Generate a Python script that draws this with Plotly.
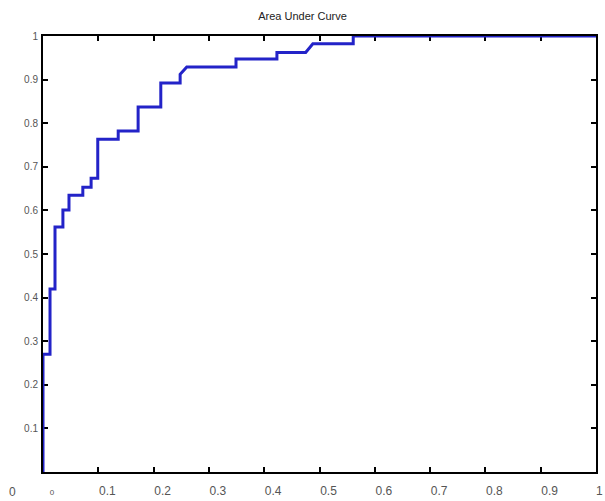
import plotly.graph_objects as go

# ROC curve data (false positive rate, true positive rate)
fpr = [0, 0, 0.0127, 0.0127, 0.0217, 0.0217, 0.036, 0.036, 0.047, 0.047, 0.072, 0.072,
       0.087, 0.087, 0.099, 0.099, 0.136, 0.136, 0.172, 0.172, 0.213, 0.213, 0.248, 0.248,
       0.26, 0.349, 0.349, 0.423, 0.423, 0.475, 0.488, 0.561, 0.561, 1.0]
tpr = [0, 0.27, 0.27, 0.42, 0.42, 0.562, 0.562, 0.601, 0.601, 0.635, 0.635, 0.653,
       0.653, 0.674, 0.674, 0.763, 0.763, 0.782, 0.782, 0.837, 0.837, 0.892, 0.892, 0.912,
       0.929, 0.929, 0.947, 0.947, 0.962, 0.962, 0.982, 0.982, 1.0, 1.0]

x_ticks = [0, 0.1, 0.2, 0.3, 0.4, 0.5, 0.6, 0.7, 0.8, 0.9, 1]
x_labels = ["<span style='font-size:8px'>0</span>", "0.1", "0.2", "0.3", "0.4", "0.5",
            "0.6", "0.7", "0.8", "0.9", ""]
x_last_label = "1"
y_ticks = [0.1, 0.2, 0.3, 0.4, 0.5, 0.6, 0.7, 0.8, 0.9, 1]
y_labels = ["0.1", "0.2", "0.3", "0.4", "0.5", "0.6", "0.7", "0.8", "0.9", "1"]

fig = go.Figure()
fig.add_trace(go.Scatter(x=fpr, y=tpr, mode="lines",
                         line=dict(color="#2323c8", width=3),
                         cliponaxis=False, showlegend=False))

axis_common = dict(showgrid=False, zeroline=False, showline=True, linecolor="black",
                   linewidth=2, ticks="inside", ticklen=5, tickwidth=2, tickcolor="black",
                   mirror="ticks", layer="below traces", automargin=False)

fig.update_xaxes(range=[0, 1], tickvals=x_ticks, ticktext=x_labels,
                 tickfont=dict(family="Liberation Sans, Arial", size=12, color="#555"),
                 ticklabelshift=9, ticklabelstandoff=7, ticklabeloverflow="allow",
                 **axis_common)
fig.update_yaxes(range=[0, 1], tickvals=y_ticks, ticktext=y_labels,
                 tickfont=dict(family="Liberation Sans, Arial", size=10, color="#555"),
                 ticklabelstandoff=1, ticklabeloverflow="allow", **axis_common)

fig.add_annotation(text="0", x=0, y=0, xref="paper", yref="paper",
                   xanchor="center", yanchor="top",
                   xshift=-31, yshift=-11, showarrow=False,
                   font=dict(family="Liberation Sans, Arial", size=12, color="#555"))
fig.add_annotation(text=x_last_label, x=1, y=0, xref="paper", yref="paper",
                   xanchor="right", yanchor="top",
                   xshift=9, yshift=-10, showarrow=False,
                   font=dict(family="Liberation Sans, Arial", size=12, color="#555"))

fig.update_layout(
    width=605, height=501,
    margin=dict(l=43, r=9, t=36, b=29, autoexpand=False),
    paper_bgcolor="white", plot_bgcolor="white",
    title=dict(text="Area Under Curve", x=0.5, xanchor="center", y=0.968, yanchor="middle",
               font=dict(family="Liberation Sans, Arial", size=11, color="#222")),
)

fig.write_html("out.html")
